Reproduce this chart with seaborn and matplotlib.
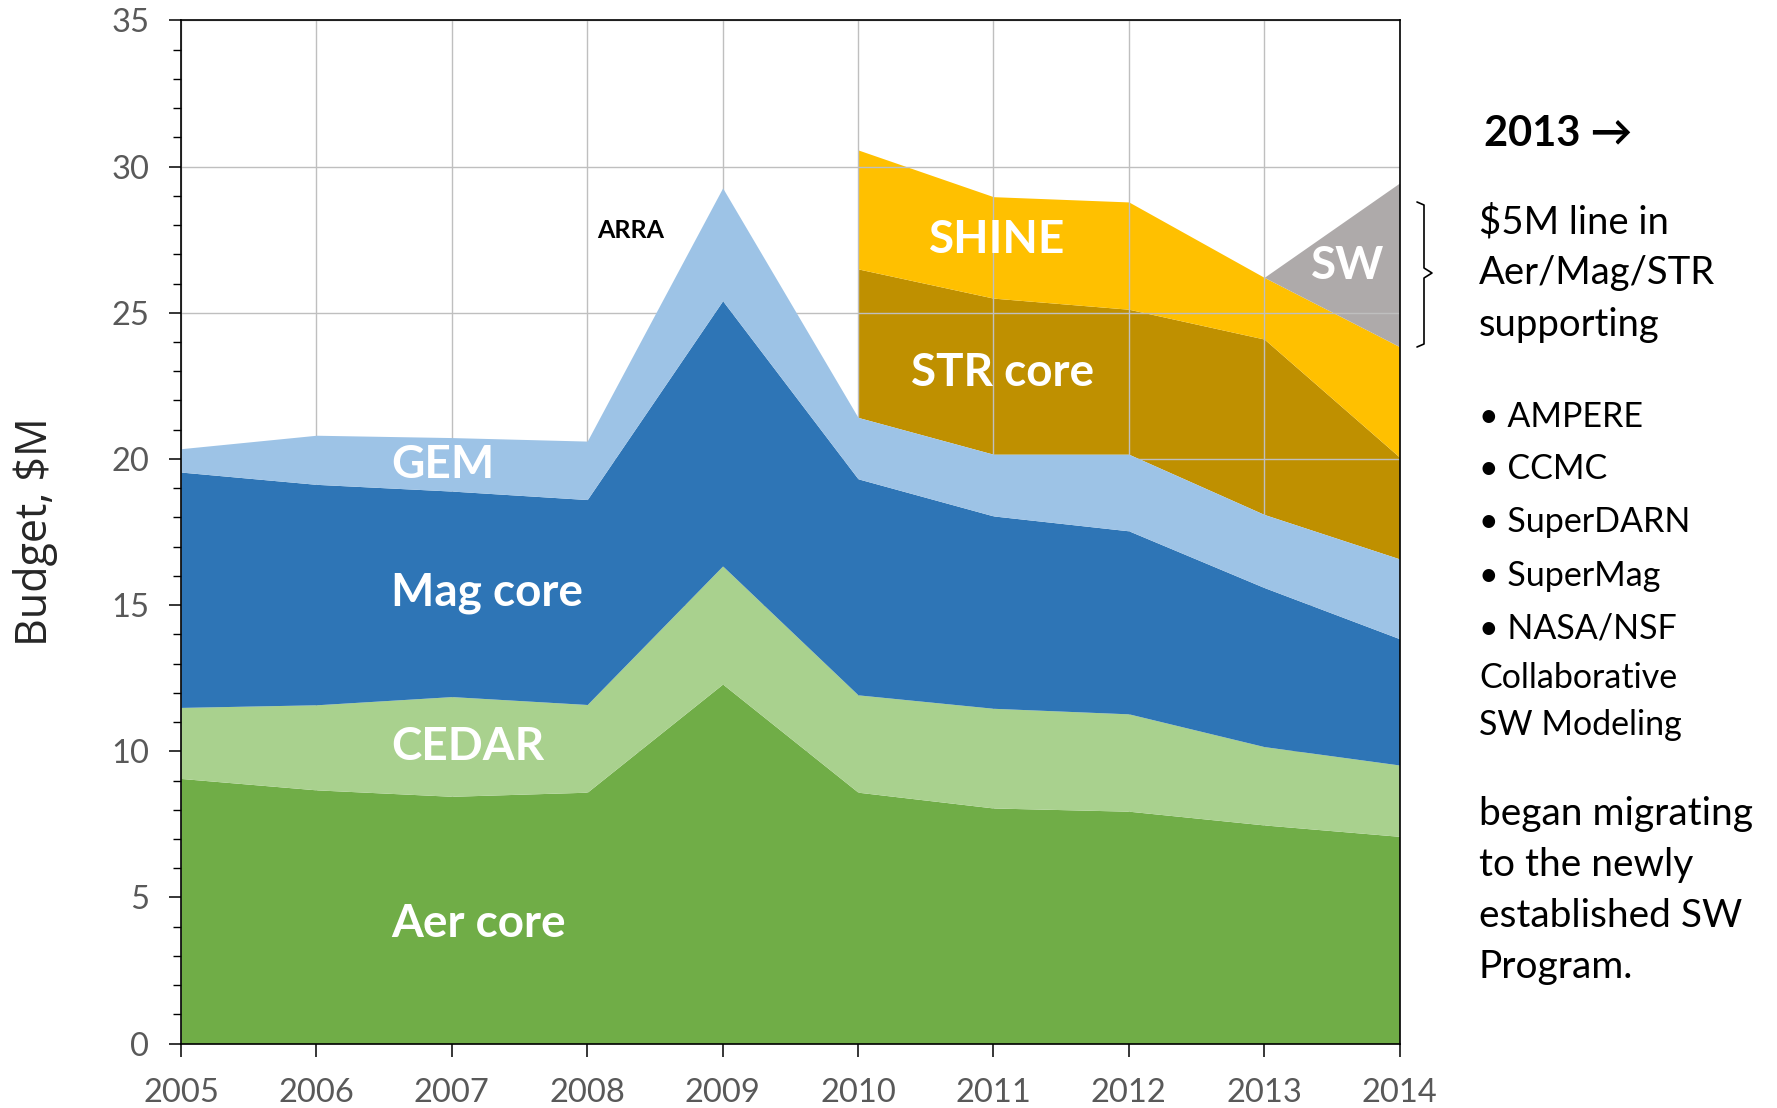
import numpy as np
import pandas as pd
import seaborn as sns
import matplotlib.pyplot as plt
from matplotlib.ticker import MultipleLocator

# budget per program, $M
years = [2005, 2006, 2007, 2008, 2009, 2010, 2011, 2012, 2013, 2014]
aer_core = [9.07, 8.68, 8.46, 8.60, 12.30, 8.60, 8.06, 7.95, 7.48, 7.09]
cedar = [2.43, 2.91, 3.41, 3.00, 4.04, 3.33, 3.41, 3.33, 2.68, 2.44]
mag_core = [8.05, 7.54, 7.03, 7.01, 9.07, 7.39, 6.58, 6.26, 5.44, 4.32]
gem = [0.80, 1.68, 1.83, 2.00, 3.86, 2.10, 2.11, 2.62, 2.50, 2.73]

# STR programs start in 2010, SW in 2013
str_years = [2010, 2011, 2012, 2013, 2014]
str_core = [5.08, 5.34, 4.96, 6.00, 3.48]
shine = [4.07, 3.47, 3.67, 2.11, 3.78]
sw_years = [2013, 2014]
sw = [0.00, 5.60]

colors = {"Aer core": "#70AD47", "CEDAR": "#A9D18E", "Mag core": "#2E75B6",
          "GEM": "#9DC3E6", "STR core": "#BF9000", "SHINE": "#FFC000", "SW": "#AEAAAA"}

sns.set_theme(style="ticks")
plt.rcParams['font.family'] = ['Lato', 'DejaVu Sans']

fig = plt.figure(figsize=(17.77, 11.08), dpi=100)
ax = fig.add_axes([0.1019, 0.0581, 0.6857, 0.9235])

# lower stack over the whole period
df = pd.DataFrame({"Aer core": aer_core, "CEDAR": cedar, "Mag core": mag_core, "GEM": gem}, index=years)
ax.stackplot(df.index, df.T.values, colors=[colors[c] for c in df.columns], zorder=3, linewidth=0)

# upper stack 2010-2014, sitting on top of the lower total
base = df.sum(axis=1).loc[str_years].values
str_top = base + np.array(str_core)
shine_top = str_top + np.array(shine)
ax.fill_between(str_years, base, str_top, color=colors["STR core"], lw=0, zorder=1)
ax.fill_between(str_years, str_top, shine_top, color=colors["SHINE"], lw=0, zorder=1)
sw_base = pd.Series(shine_top, index=str_years).loc[sw_years].values
ax.fill_between(sw_years, sw_base, sw_base + np.array(sw), color=colors["SW"], lw=0, zorder=1)

# axes styling
ax.set_xlim(2005, 2014)
ax.set_ylim(0, 35)
ax.set_xticks(years)
ax.yaxis.set_major_locator(MultipleLocator(5))
ax.yaxis.set_minor_locator(MultipleLocator(1))
ax.grid(True, which="major", color="#BFBFBF", lw=1.0, zorder=2)
ax.set_axisbelow(False)
for sp in ax.spines.values():
    sp.set_color("black")
    sp.set_linewidth(1.2)
    sp.set_zorder(4)
ax.tick_params(axis="both", which="major", labelsize=23.5, labelcolor="#595959",
               length=9, width=1.1, color="black", direction="out")
ax.tick_params(axis="y", which="minor", length=6, width=1.0, color="black", direction="out")
ax.tick_params(axis="x", pad=16)
ax.tick_params(axis="y", pad=14)
ax.set_ylabel("Budget, $M", fontsize=31, family=['Open Sans', 'DejaVu Sans'])
ax.yaxis.set_label_coords(-0.101, 0.5)

# area labels
lab = dict(color="white", fontsize=33, fontweight="bold", zorder=5)
ax.text(2006.55, 19.8, "GEM", ha="left", va="center", **lab)
ax.text(2006.55, 15.4, "Mag core", ha="left", va="center", **lab)
ax.text(2006.55, 10.15, "CEDAR", ha="left", va="center", **lab)
ax.text(2006.55, 4.1, "Aer core", ha="left", va="center", **lab)
ax.text(2011.03, 27.5, "SHINE", ha="center", va="center", **lab)
ax.text(2010.39, 22.95, "STR core", ha="left", va="center", **lab)
ax.text(2013.62, 26.6, "SW", ha="center", va="center", **lab)
ax.text(2008.32, 27.8, "ARRA", ha="center", va="center", fontsize=18, fontweight="bold", color="black", zorder=5)

# side notes (pixel positions converted to figure fractions)
W, H = 1777, 1108
def side(x, y, s, **kw):
    fig.text(x / W, 1 - y / H, s, ha="left", va="center", color="black", **kw)

side(1484, 134, "2013 \u2192", fontsize=30, fontweight="bold")
for y, s in [(222, "$5M line in"), (273, "Aer/Mag/STR"), (325, "supporting")]:
    side(1479, y, s, fontsize=27.5)
for y, s in [(417, "\u2022 AMPERE"), (469, "\u2022 CCMC"), (522, "\u2022 SuperDARN"),
             (576, "\u2022 SuperMag"), (629, "\u2022 NASA/NSF"), (678, "Collaborative"),
             (725, "SW Modeling")]:
    side(1479, y, s, fontsize=24.5)
for y, s in [(814, "began migrating"), (865, "to the newly"), (916, "established SW"), (967, "Program.")]:
    side(1479, y, s, fontsize=28)

# bracket next to the SW wedge
bx = np.array([1417, 1424, 1424, 1432, 1424, 1424, 1417])
by = np.array([202, 205, 268, 273, 278, 344, 347])
fig.lines.append(plt.Line2D(bx / W, 1 - by / H, transform=fig.transFigure, color="black", lw=1.2))

fig.savefig("out.png", dpi=100)
